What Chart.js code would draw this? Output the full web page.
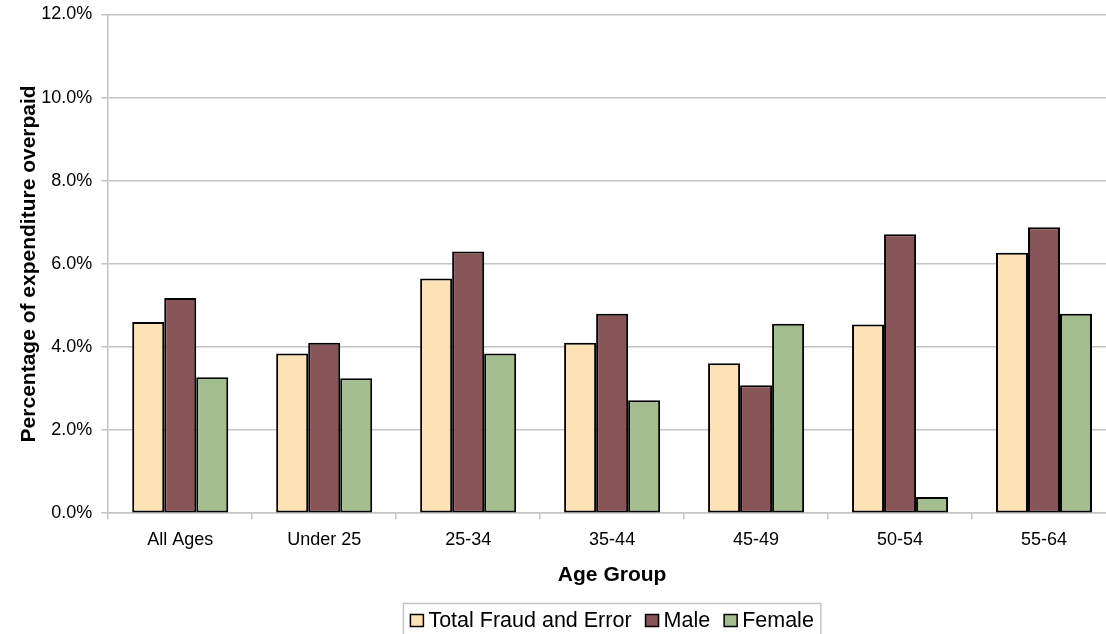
<!DOCTYPE html>
<html lang="en">
<head>
<meta charset="UTF-8">
<title>Fraud and Error by Age Group</title>
<script src="https://cdn.jsdelivr.net/npm/chart.js"></script>
<style>
    html, body {
        margin: 0;
        padding: 0;
        background: #fff;
        overflow: hidden;
    }

    .wrap {
        width: 1130px;
        height: 634px;
        position: relative;
    }
</style>
</head>
<body>
<div class="wrap"><canvas id="chart"></canvas></div>

<script>
    const categories = ['All Ages', 'Under 25', '25-34', '35-44', '45-49', '50-54', '55-64'];
    const totalFraud = [4.60, 3.84, 5.65, 4.10, 3.61, 4.54, 6.27];
    const male = [5.18, 4.10, 6.30, 4.80, 3.08, 6.71, 6.88];
    const female = [3.27, 3.25, 3.84, 2.72, 4.56, 0.39, 4.80];
    const yTicks = [0, 2, 4, 6, 8, 10, 12];

    const FONT = '"Liberation Sans", Arial, sans-serif';
    const GRID = '#c4c4c4';

    // legend drawn inside a thin grey frame, like the spreadsheet one
    const boxLegend = {
        id: 'boxLegend',
        afterDraw(chart) {
            const ctx = chart.ctx;
            const area = chart.chartArea;
            ctx.save();
            ctx.font = '21.5px ' + FONT;
            const items = chart.data.datasets.map(ds => ({
                text: ds.label,
                color: ds.backgroundColor,
                w: ctx.measureText(ds.label).width
            }));
            const box = 13, gap = 5, space = 14, pad = 7;
            let width = pad * 2 + space * (items.length - 1);
            items.forEach(it => width += box + gap + it.w);

            const cx = (area.left + area.right) / 2;
            const top = 603.5;
            let x = cx - width / 2;

            ctx.strokeStyle = GRID;
            ctx.lineWidth = 1.5;
            ctx.strokeRect(x, top, width, 45);

            x += pad;
            const mid = top + 17;
            ctx.textBaseline = 'middle';
            items.forEach(it => {
                ctx.fillStyle = it.color;
                ctx.fillRect(x, mid - 6, box, box - 1);
                ctx.strokeStyle = '#000';
                ctx.lineWidth = 1.5;
                ctx.strokeRect(x, mid - 6, box, box - 1);
                x += box + gap;
                ctx.fillStyle = '#000';
                ctx.fillText(it.text, x, mid + 1);
                x += it.w + space;
            });
            ctx.restore();
        }
    };

    new Chart(document.getElementById('chart'), {
        type: 'bar',
        data: {
            labels: categories,
            datasets: [
                { label: 'Total Fraud and Error', data: totalFraud, backgroundColor: '#fce2b4' },
                { label: 'Male', data: male, backgroundColor: '#875457' },
                { label: 'Female', data: female, backgroundColor: '#a3bd8f' }
            ]
        },
        options: {
            responsive: true,
            maintainAspectRatio: false,
            animation: false,
            layout: { padding: { top: 14.5, right: 14, bottom: 44, left: 15 } },
            datasets: {
                bar: {
                    borderColor: '#000',
                    borderWidth: 2,
                    borderSkipped: false,
                    categoryPercentage: 0.667,
                    barPercentage: 1
                }
            },
            plugins: {
                legend: { display: false },
                tooltip: { enabled: false }
            },
            scales: {
                x: {
                    grid: { offset: true, drawOnChartArea: false, tickLength: 6, color: GRID, lineWidth: 1.5 },
                    border: { color: GRID, width: 1.5 },
                    ticks: { color: '#000', font: { family: FONT, size: 18 }, padding: 10, maxRotation: 0 },
                    title: {
                        display: true,
                        text: 'Age Group',
                        color: '#000',
                        font: { family: FONT, size: 21, weight: 'bold' },
                        padding: { top: 2, bottom: 2 }
                    }
                },
                y: {
                    min: 0,
                    max: 12,
                    afterBuildTicks: scale => { scale.ticks = yTicks.map(v => ({ value: v })); },
                    grid: { color: GRID, lineWidth: 1.5, tickLength: 7 },
                    border: { color: GRID, width: 1.5 },
                    ticks: {
                        color: '#000',
                        font: { family: FONT, size: 18, lineHeight: 0.6 },
                        padding: 9,
                        callback: v => v.toFixed(1) + '%'
                    },
                    title: {
                        display: true,
                        text: 'Percentage of expenditure overpaid',
                        color: '#000',
                        font: { family: FONT, size: 21, weight: 'bold' },
                        padding: { top: 2, bottom: -10 }
                    }
                }
            }
        },
        plugins: [boxLegend]
    });
</script>
</body>
</html>
